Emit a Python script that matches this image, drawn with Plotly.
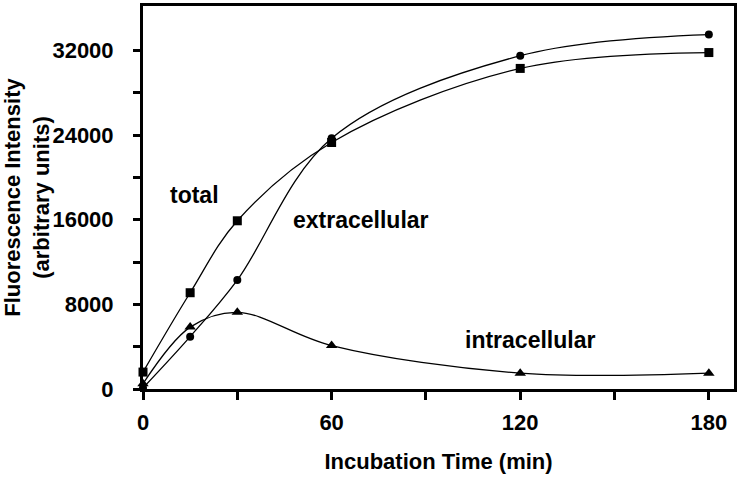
import plotly.graph_objects as go

# incubation times (min)
time_min = [0, 15, 30, 60, 120, 180]

# fluorescence intensity, arbitrary units
total = [1600, 9100, 15900, 23300, 30300, 31800]
extracellular = [100, 4950, 10300, 23700, 31500, 33500]
intracellular = [500, 5850, 7250, 4100, 1500, 1500]

labels = ["total", "extracellular", "intracellular"]
label_x = [16.3, 69.5, 123.2]
label_y = [18300, 16000, 4600]

FONT = "Liberation Sans, Arial, sans-serif"

fig = go.Figure()

series = [
    (total, "square", 9),
    (extracellular, "circle", 8),
    (intracellular, "triangle-up", 10),
]
for vals, sym, sz in series:
    fig.add_trace(go.Scatter(
        x=time_min, y=vals, mode="lines+markers",
        line=dict(color="black", width=1.3, shape="spline", smoothing=1),
        marker=dict(symbol=sym, size=sz, color="black"),
        showlegend=False, cliponaxis=False,
    ))

for txt, lx, ly in zip(labels, label_x, label_y):
    fig.add_annotation(x=lx, y=ly, text="<b>" + txt + "</b>", showarrow=False,
                       font=dict(family=FONT, size=23, color="black"))

fig.update_layout(
    width=740, height=479,
    margin=dict(l=142, r=6, t=3, b=90),
    paper_bgcolor="white", plot_bgcolor="white",
    font=dict(family=FONT, color="black"),
)

fig.update_xaxes(
    range=[0, 188], tickvals=[0, 60, 120, 180],
    ticktext=["<b>0</b>", "<b>60</b>", "<b>120</b>", "<b>180</b>"],
    ticks="outside", ticklen=8, tickwidth=3, tickcolor="black",
    minor=dict(tickvals=[30, 90, 150], ticks="outside", ticklen=8, tickwidth=3, tickcolor="black"),
    ticklabelstandoff=4,
    tickfont=dict(size=22),
    showline=True, linewidth=3, linecolor="black", mirror=True,
    showgrid=False, zeroline=False,
    title=dict(text="<b>Incubation Time (min)</b>", font=dict(size=22), standoff=20),
)

fig.update_yaxes(
    range=[0, 36200], tickvals=[0, 8000, 16000, 24000, 32000],
    ticktext=["<b>0</b>", "<b>8000</b>", "<b>16000</b>", "<b>24000</b>", "<b>32000</b>"],
    ticks="outside", ticklen=7, tickwidth=3, tickcolor="black",
    minor=dict(tickvals=[4000, 12000, 20000, 28000], ticks="outside", ticklen=7, tickwidth=3, tickcolor="black"),
    ticklabelstandoff=15,
    tickfont=dict(size=22),
    showline=True, linewidth=3, linecolor="black", mirror=True,
    showgrid=False, zeroline=False,
    title=dict(text="<b>Fluorescence Intensity<br>(arbitrary units)</b>", font=dict(size=22), standoff=5),
)

# page body has a default 8px margin; drop it so the figure sits at the corner
fig.write_html("out.html", config={"displayModeBar": False},
               post_script="document.body.style.margin='0';")
